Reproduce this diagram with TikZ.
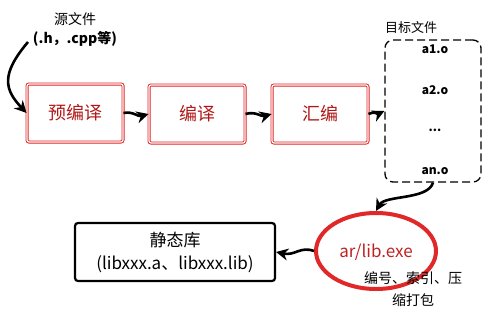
\documentclass[tikz,border=0pt]{standalone}
\usepackage{fontspec}
\setmainfont{Noto Sans CJK SC}
\usetikzlibrary{arrows.meta,shapes.geometric,positioning}
\definecolor{boxred}{HTML}{E02020}
\definecolor{txtred}{HTML}{B01818}
\definecolor{ellred}{HTML}{E02828}
\tikzset{
  arr/.style={draw=black, line width=2.6pt, -{Stealth[length=12pt,width=12pt]}},
  stagebox/.style={draw=boxred, double=white, double distance=1.2pt, line width=0.9pt,
    rounded corners=2pt, minimum width=96pt, minimum height=58pt,
    text=txtred, font=\fontsize{18}{20}\selectfont},
  objtxt/.style={font=\fontsize{12}{14}\selectfont\bfseries},
}
\begin{document}
\begin{tikzpicture}[x=1pt,y=-1pt]
\useasboundingbox (0,0) rectangle (484,316);
% source label
\node[align=center, font=\fontsize{14}{19}\selectfont] (src) at (75,30) {源文件\\\textbf{(.h，.cpp等)}};
% stages
\node[stagebox] (pre) at (75,113) {预编译};
\node[stagebox] (cmp) at (197,114) {编译};
\node[stagebox] (asm) at (320,114) {汇编};
% object files
\node[draw=black, dashed, dash pattern=on 8pt off 4pt, line width=1.3pt, rounded corners=8pt,
  minimum width=96pt, minimum height=142pt] (obj) at (433,111) {};
\node[font=\fontsize{13}{15}\selectfont] (objlbl) at (411,28) {目标文件};
\node[objtxt] (a1) at (435,49) {a1.o};
\node[objtxt] (a2) at (435,90) {a2.o};
\node[objtxt] (dots) at (435,130) {...};
\node[objtxt] (an) at (435,171) {an.o};
% ellipse
\node[draw=ellred, ellipse, line width=4pt, minimum width=120pt, minimum height=76pt] (ar) at (376,251) {};
\node[text=ellred!85!black, font=\fontsize{17}{19}\selectfont] (artxt) at (376,252) {ar/lib.exe};
\node[align=center, font=\fontsize{14}{22}\selectfont] (artext) at (413,289) {编号、索引、压\\缩打包};
% static lib
\node[draw=black, line width=2.2pt, rounded corners=3pt, minimum width=200pt, minimum height=58pt,
  align=center, font=\fontsize{17}{23}\selectfont] (lib) at (175,252) {静态库\\(libxxx.a、libxxx.lib)};
% connectors
\coordinate (s0) at (28,42);
\draw[arr] (s0) .. controls (0,75) and (5,90) .. (pre.west);
\draw[arr] (pre.east) .. controls (133,111) and (138,117) .. (cmp.west);
\draw[arr] (cmp.east) .. controls (256,111) and (261,117) .. (asm.west);
\draw[arr] (asm.east) .. controls (374,111) and (378,114) .. (obj.west);
\draw[arr] (obj.south) ..controls (428,200) and (385,195) .. (ar.north);
\draw[arr] (ar.west) .. controls (300,246) and (295,256) .. (lib.east);
\end{tikzpicture}
\end{document}
